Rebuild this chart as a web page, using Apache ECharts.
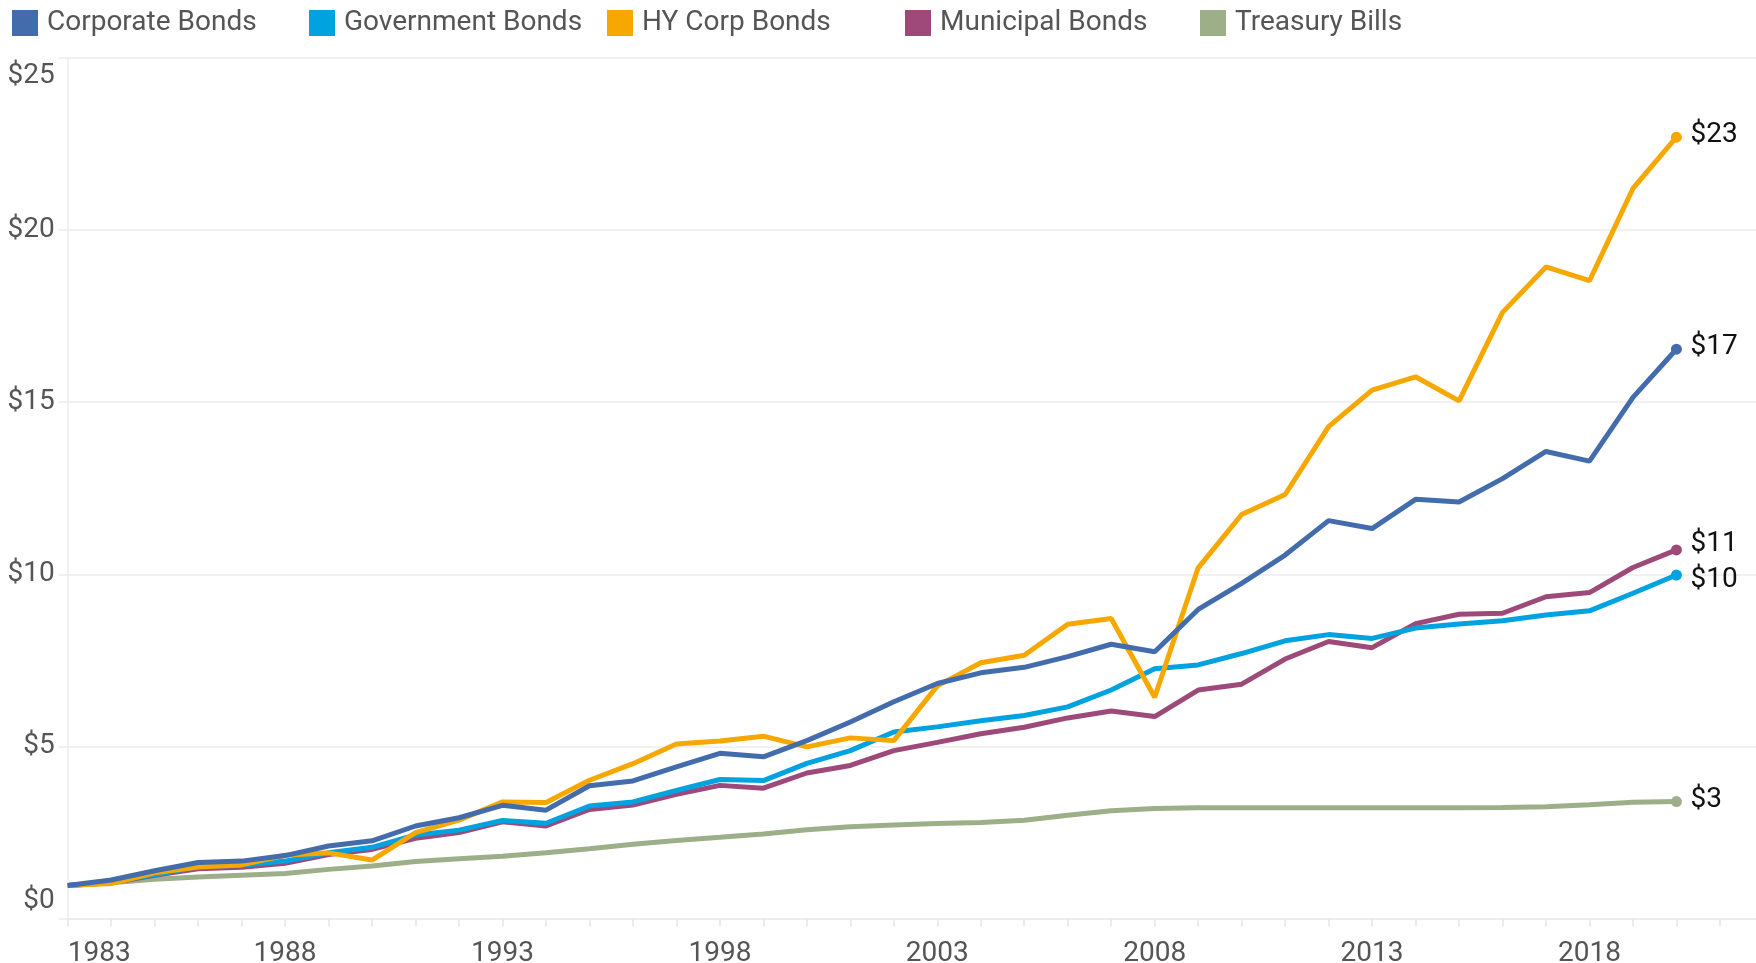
<!DOCTYPE html>
<html>
<head>
<meta charset="utf-8">
<title>Growth of $1</title>
<script src="https://cdn.jsdelivr.net/npm/echarts/dist/echarts.min.js"></script>
<style>
  html, body { margin: 0; padding: 0; background: #fff; }
  #chart { width: 1756px; height: 963px; }
</style>
</head>
<body>
<div id="chart"></div>
<script>
  // data
  const years = [1983, 1984, 1985, 1986, 1987, 1988, 1989, 1990, 1991, 1992,
    1993, 1994, 1995, 1996, 1997, 1998, 1999, 2000, 2001, 2002,
    2003, 2004, 2005, 2006, 2007, 2008, 2009, 2010, 2011, 2012,
    2013, 2014, 2015, 2016, 2017, 2018, 2019, 2020];

  const corporateBonds = [0.96, 1.12, 1.39, 1.63, 1.67, 1.83, 2.11, 2.26, 2.69, 2.93,
    3.29, 3.15, 3.86, 4.00, 4.41, 4.80, 4.70, 5.17, 5.71, 6.30,
    6.83, 7.14, 7.30, 7.61, 7.97, 7.75, 8.98, 9.74, 10.56, 11.56,
    11.33, 12.18, 12.10, 12.78, 13.57, 13.29, 15.14, 16.54];

  const governmentBonds = [0.96, 1.06, 1.27, 1.51, 1.55, 1.67, 1.91, 2.07, 2.43, 2.57,
    2.85, 2.77, 3.27, 3.39, 3.72, 4.04, 4.01, 4.51, 4.88, 5.42,
    5.57, 5.75, 5.90, 6.15, 6.64, 7.26, 7.37, 7.70, 8.07, 8.25,
    8.14, 8.44, 8.56, 8.65, 8.82, 8.94, 9.45, 9.98];

  const hyCorpBonds = [0.96, 1.02, 1.33, 1.50, 1.56, 1.84, 1.91, 1.70, 2.50, 2.86,
    3.39, 3.37, 4.02, 4.50, 5.07, 5.16, 5.30, 4.99, 5.25, 5.17,
    6.76, 7.43, 7.65, 8.55, 8.72, 6.43, 10.19, 11.74, 12.32, 14.29,
    15.35, 15.74, 15.04, 17.61, 18.93, 18.53, 21.21, 22.70];

  const municipalBonds = [0.96, 1.04, 1.26, 1.45, 1.49, 1.61, 1.86, 2.01, 2.33, 2.50,
    2.81, 2.69, 3.17, 3.30, 3.61, 3.87, 3.79, 4.23, 4.45, 4.88,
    5.12, 5.37, 5.56, 5.83, 6.03, 5.87, 6.64, 6.81, 7.54, 8.05,
    7.87, 8.57, 8.84, 8.87, 9.35, 9.47, 10.20, 10.71];

  const treasuryBills = [0.96, 1.04, 1.14, 1.21, 1.26, 1.31, 1.43, 1.53, 1.66, 1.74,
    1.81, 1.91, 2.03, 2.16, 2.27, 2.36, 2.46, 2.58, 2.67, 2.72,
    2.76, 2.79, 2.86, 3.00, 3.13, 3.20, 3.22, 3.22, 3.22, 3.22,
    3.22, 3.22, 3.22, 3.23, 3.25, 3.31, 3.38, 3.40];

  const seriesNames = ['Corporate Bonds', 'Government Bonds', 'HY Corp Bonds', 'Municipal Bonds', 'Treasury Bills'];
  const seriesValues = [corporateBonds, governmentBonds, hyCorpBonds, municipalBonds, treasuryBills];
  const yTicks = [0, 5, 10, 15, 20, 25];

  const myColor = ['#436CAC', '#00A2E0', '#F7A800', '#9D4A7A', '#9CAF88'];
  // draw order: corporate on top, treasury at the bottom
  const zOrder = [5, 3, 4, 2, 1];
  // small nudges so $11 and $10 do not collide
  const labelOffset = [[0, -2], [0, 5], [0, -2], [0, -6], [0, -2]];
  // legend items sit in equal-width slots
  const legendLeft = [12, 309, 607, 905, 1200];

  const fontName = 'Roboto, "Noto Sans", sans-serif';
  const last = years.length - 1;

  const series = seriesNames.map(function (name, i) {
    return {
      name: name,
      type: 'line',
      z: zOrder[i],
      data: years.map(function (y, k) { return [y, seriesValues[i][k]]; }),
      symbol: 'circle',
      showAllSymbol: true,
      symbolSize: function (val, params) {
        return params.dataIndex === last ? 11 : 0;
      },
      lineStyle: { width: 5, color: myColor[i] },
      itemStyle: { color: myColor[i] },
      emphasis: { disabled: true },
      endLabel: {
        show: true,
        distance: 14,
        offset: labelOffset[i],
        fontFamily: fontName,
        fontSize: 28,
        color: '#111',
        formatter: function (p) { return '$' + Math.round(p.value[1]); }
      }
    };
  });

  // one legend per item so each one can be placed where the original has it
  const legends = seriesNames.map(function (name, i) {
    return {
      data: [name],
      left: legendLeft[i],
      top: 9,
      padding: 0,
      itemWidth: 26,
      itemHeight: 26,
      icon: 'rect',
      selectedMode: false,
      textStyle: {
        fontFamily: fontName,
        fontSize: 28,
        color: '#555',
        padding: [0, 0, 0, 4]
      }
    };
  });

  const option = {
    animation: false,
    color: myColor,
    legend: legends,
    grid: {
      left: 67.7,
      right: 0,
      top: 58,
      bottom: 44.4,
      outerBoundsMode: 'none'
    },
    xAxis: {
      type: 'value',
      min: 1983,
      max: 2021.83,
      interval: 1,
      axisLine: { show: true, lineStyle: { color: '#ececec', width: 1.5 } },
      axisTick: { show: true, length: 8, lineStyle: { color: '#e6e6e6', width: 1.5 } },
      splitLine: { show: false },
      axisLabel: {
        margin: 21,
        fontFamily: fontName,
        fontSize: 28,
        color: '#555',
        alignMinLabel: 'left',
        showMaxLabel: false,
        formatter: function (v) {
          return (Math.abs(v - Math.round(v)) < 1e-6 && (Math.round(v) - 1983) % 5 === 0) ? String(Math.round(v)) : '';
        }
      }
    },
    yAxis: {
      type: 'value',
      min: yTicks[0],
      max: yTicks[yTicks.length - 1],
      interval: 5,
      axisLine: { show: true, lineStyle: { color: '#ececec', width: 1.5 } },
      axisTick: { show: true, length: 9, lineStyle: { color: '#ececec', width: 1.5 } },
      splitLine: { show: true, lineStyle: { color: '#ececec', width: 1.5 } },
      axisLabel: {
        margin: 13,
        fontFamily: fontName,
        fontSize: 28,
        lineHeight: 36,
        color: '#555',
        verticalAlignMinLabel: 'bottom',
        verticalAlignMaxLabel: 'top',
        formatter: function (v) { return '$' + v; }
      }
    },
    series: series
  };

  const myChart = echarts.init(document.getElementById('chart'));
  myChart.setOption(option);
  window.addEventListener('resize', function () { myChart.resize(); });
</script>
</body>
</html>
